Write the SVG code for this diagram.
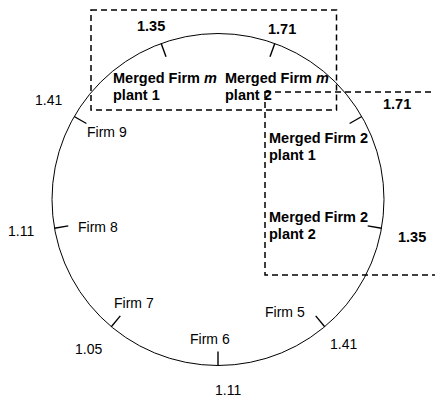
<svg xmlns="http://www.w3.org/2000/svg" width="435" height="400" viewBox="0 0 435 400">
<style>
.ring{fill:none;stroke:#000;stroke-width:1}
.tick{stroke:#000;stroke-width:1.4}
.box{fill:none;stroke:#000;stroke-width:1.5;stroke-dasharray:6 4}
.b{font-family:"Liberation Sans",Arial,sans-serif;font-weight:bold;font-size:14.5px;fill:#000}
.r{font-family:"Liberation Sans",Arial,sans-serif;font-size:14px;fill:#000}
.i{font-style:italic}
</style>
<rect width="435" height="400" fill="#fff"/>
<g id="connectors">
<circle class="ring" cx="218" cy="199.5" r="166"/>
</g>
<g id="box-merged-m">
<rect class="box" x="91" y="10" width="245.5" height="100"/>
</g>
<g id="box-merged-2">
<rect class="box" x="265" y="92" width="200" height="183"/>
</g>
<g id="merged-m-plant1">
<line class="tick" x1="161.2" y1="43.5" x2="166" y2="56.7"/>
<text class="b" x="137" y="31">1.35</text>
<text class="b" x="113" y="83">Merged Firm <tspan class="i">m</tspan></text>
<text class="b" x="113" y="100">plant 1</text>
</g>
<g id="merged-m-plant2">
<line class="tick" x1="274.8" y1="43.5" x2="270" y2="56.7"/>
<text class="b" x="268" y="34">1.71</text>
<text class="b" x="225" y="83">Merged Firm <tspan class="i">m</tspan></text>
<text class="b" x="225" y="100">plant 2</text>
</g>
<g id="merged-2-plant1">
<line class="tick" x1="361.8" y1="116.5" x2="349.6" y2="123.5"/>
<text class="b" x="383" y="109">1.71</text>
<text class="b" x="269" y="143">Merged Firm 2</text>
<text class="b" x="269" y="160">plant 1</text>
</g>
<g id="merged-2-plant2">
<line class="tick" x1="381.5" y1="228.3" x2="367.7" y2="225.9"/>
<text class="b" x="398" y="242">1.35</text>
<text class="b" x="269" y="222">Merged Firm 2</text>
<text class="b" x="269" y="239">plant 2</text>
</g>
<g id="firm5">
<line class="tick" x1="324.7" y1="326.7" x2="315.7" y2="315.9"/>
<text class="r" x="265" y="317">Firm 5</text>
<text class="r" x="330" y="349">1.41</text>
</g>
<g id="firm6">
<line class="tick" x1="218" y1="365.5" x2="218" y2="351.5"/>
<text class="r" x="190" y="344">Firm 6</text>
<text class="r" x="215" y="395">1.11</text>
</g>
<g id="firm7">
<line class="tick" x1="111.3" y1="326.7" x2="120.3" y2="315.9"/>
<text class="r" x="114" y="308">Firm 7</text>
<text class="r" x="75" y="354">1.05</text>
</g>
<g id="firm8">
<line class="tick" x1="54.5" y1="228.3" x2="68.3" y2="225.9"/>
<text class="r" x="78" y="232">Firm 8</text>
<text class="r" x="8" y="236">1.11</text>
</g>
<g id="firm9">
<line class="tick" x1="74.2" y1="116.5" x2="86.4" y2="123.5"/>
<text class="r" x="87" y="137">Firm 9</text>
<text class="r" x="35" y="105">1.41</text>
</g>
</svg>
